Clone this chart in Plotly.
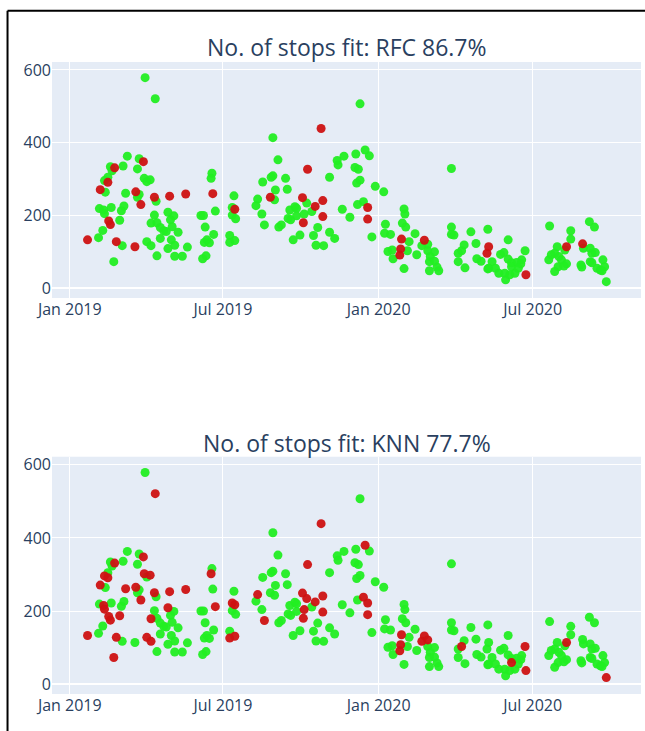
import plotly.graph_objects as go

# Observed number of stops per date, with whether each model's prediction was correct (1) or not (0)
dates = [
    "2019-03-31", "2019-04-12", "2019-03-10", "2019-03-24", "2019-03-29", "2019-02-18", "2019-02-23", "2019-03-05",
    "2019-03-22", "2019-02-20", "2019-02-15", "2019-02-11", "2019-02-15", "2019-03-30", "2019-04-06", "2019-04-02",
    "2019-02-06", "2019-02-12", "2019-03-08", "2019-03-20", "2019-03-24", "2019-03-22", "2019-03-26", "2019-04-11",
    "2019-04-13", "2019-04-29", "2019-05-18", "2019-02-05", "2019-02-10", "2019-02-11", "2019-02-19", "2019-03-06",
    "2019-03-03", "2019-02-16", "2019-02-18", "2019-03-01", "2019-02-09", "2019-02-04", "2019-01-22", "2019-02-25",
    "2019-03-04", "2019-03-19", "2019-02-22", "2019-04-11", "2019-04-27", "2019-05-04", "2019-04-30", "2019-04-07",
    "2019-04-14", "2019-04-18", "2019-04-22", "2019-04-25", "2019-05-02", "2019-05-09", "2019-04-18", "2019-05-01",
    "2019-05-05", "2019-04-27", "2019-04-02", "2019-04-07", "2019-04-14", "2019-05-05", "2019-05-14", "2019-05-20",
    "2019-06-05", "2019-06-08", "2019-06-18", "2019-06-17", "2019-06-19", "2019-06-22", "2019-06-10", "2019-06-20",
    "2019-06-12", "2019-06-09", "2019-06-15", "2019-06-11", "2019-06-07", "2019-07-14", "2019-07-12", "2019-07-15",
    "2019-07-12", "2019-07-16", "2019-07-09", "2019-07-09", "2019-07-15", "2019-08-29", "2019-09-04", "2019-08-29",
    "2019-08-27", "2019-08-17", "2019-09-13", "2019-09-15", "2019-09-01", "2019-08-31", "2019-08-26", "2019-08-11",
    "2019-08-09", "2019-08-16", "2019-08-19", "2019-09-05", "2019-09-08", "2019-10-09", "2019-10-03", "2019-10-18",
    "2019-10-27", "2019-10-27", "2019-10-04", "2019-10-25", "2019-09-18", "2019-09-24", "2019-09-26", "2019-09-16",
    "2019-09-19", "2019-09-26", "2019-10-05", "2019-10-08", "2019-10-14", "2019-09-22", "2019-09-30", "2019-10-16",
    "2019-10-21", "2019-10-19", "2019-10-28", "2019-11-04", "2019-11-10", "2019-11-04", "2019-11-13", "2019-11-14",
    "2019-11-21", "2019-11-19",
    "2019-12-05", "2019-12-16", "2019-12-21", "2019-12-04", "2019-12-08", "2019-12-10", "2019-12-06", "2019-12-10",
    "2019-11-28", "2019-12-07", "2019-12-14", "2019-12-19", "2019-12-19", "2019-12-24", "2019-12-28", "2020-01-07",
    "2020-03-27", "2020-01-31", "2020-02-01", "2020-01-09", "2020-01-08", "2020-01-15", "2020-01-29", "2020-02-02",
    "2020-01-28", "2020-02-06", "2020-02-13", "2020-01-27", "2020-01-26", "2020-01-12", "2020-01-17", "2020-01-18",
    "2020-02-04", "2020-01-31", "2020-02-24", "2020-02-21", "2020-02-28", "2020-03-07", "2020-02-15", "2020-02-28",
    "2020-03-02", "2020-03-01", "2020-03-07", "2020-03-01", "2020-03-12", "2020-03-10", "2020-03-27", "2020-03-27",
    "2020-03-30", "2020-04-19", "2020-04-25", "2020-04-11", "2020-04-08", "2020-04-04", "2020-04-04", "2020-04-12",
    "2020-04-26", "2020-05-01", "2020-05-09", "2020-05-10", "2020-05-08", "2020-05-09",
    "2020-06-02", "2020-06-22", "2020-05-24", "2020-05-28", "2020-05-14", "2020-05-10", "2020-06-02", "2020-06-06",
    "2020-06-12", "2020-06-18", "2020-06-17", "2020-05-18", "2020-05-22", "2020-05-29", "2020-05-30", "2020-06-06",
    "2020-06-04", "2020-06-10", "2020-06-14", "2020-06-23", "2020-07-21", "2020-07-30", "2020-08-10", "2020-08-08",
    "2020-08-15", "2020-08-15", "2020-07-20", "2020-07-23", "2020-07-27", "2020-08-01", "2020-08-04", "2020-07-31",
    "2020-07-27", "2020-08-10", "2020-08-07", "2020-09-06", "2020-09-12", "2020-08-29", "2020-08-30", "2020-09-07",
    "2020-09-09", "2020-09-13", "2020-08-27", "2020-08-28", "2020-09-07", "2020-09-09", "2020-09-15", "2020-09-19",
    "2020-09-22", "2020-09-24", "2020-09-21", "2020-09-26",
]

stops = [
    579, 521, 363, 356, 348, 334, 331, 336,
    328, 323, 305, 296, 291, 302, 298, 293,
    271, 264, 261, 265, 258, 250, 230, 250,
    239, 253, 259, 219, 215, 205, 222, 226,
    213, 185, 175, 187, 159, 139, 133, 128,
    117, 114, 73, 201, 209, 199, 188, 179,
    180, 167, 158, 156, 169, 154, 137, 133,
    118, 109, 128, 117, 89, 88, 88, 113,
    200, 200, 316, 302, 260, 212, 168, 148,
    133, 126, 125, 89, 81, 254, 222, 217,
    201, 191, 145, 126, 131, 414, 353, 309,
    305, 292, 302, 272, 270, 243, 250, 245,
    227, 204, 174, 168, 174, 327, 249, 225,
    241, 197, 180, 439, 215, 224, 220, 192,
    188, 199, 204, 234, 211, 133, 146, 145,
    167, 118, 117, 154, 137, 305, 351, 339,
    363, 217,
    369, 380, 364, 332, 327, 297, 289, 507,
    195, 230, 238, 222, 190, 141, 280, 265,
    329, 218, 204, 176, 151, 148, 179, 168,
    135, 128, 150, 108, 91, 101, 105, 81,
    103, 54, 132, 117, 121, 100, 92, 103,
    87, 73, 74, 48, 48, 58, 168, 148,
    146, 155, 123, 119, 103, 96, 73, 56,
    81, 74, 162, 114, 96, 53,
    133, 103, 93, 98, 73, 55, 80, 70,
    71, 78, 67, 55, 41, 41, 23, 59,
    37, 41, 55, 37, 171, 114, 114, 105,
    158, 135, 78, 92, 96, 87, 78, 59,
    46, 67, 61, 183, 168, 122, 110, 110,
    96, 98, 64, 58, 73, 70, 55, 50,
    78, 59, 48, 18,
]

rfc_ok = [
    1, 1, 1, 1, 0, 1, 0, 1,
    1, 1, 1, 1, 0, 1, 1, 1,
    0, 1, 1, 0, 1, 1, 0, 0,
    1, 0, 0, 1, 1, 1, 1, 1,
    1, 0, 0, 1, 1, 1, 0, 0,
    1, 0, 1, 1, 1, 1, 1, 1,
    1, 1, 1, 1, 1, 1, 1, 1,
    1, 1, 1, 1, 1, 1, 1, 1,
    1, 1, 1, 1, 0, 1, 1, 1,
    1, 1, 1, 1, 1, 1, 1, 0,
    1, 1, 1, 1, 1, 1, 1, 1,
    1, 1, 1, 1, 1, 1, 0, 1,
    1, 1, 1, 1, 1, 0, 0, 0,
    0, 0, 0, 0, 1, 1, 1, 1,
    1, 1, 1, 1, 1, 1, 1, 1,
    1, 1, 1, 1, 1, 1, 1, 1,
    1, 1,
    1, 1, 1, 1, 1, 1, 1, 1,
    1, 1, 1, 0, 0, 1, 1, 1,
    1, 1, 1, 1, 1, 1, 1, 1,
    0, 1, 1, 0, 0, 1, 1, 1,
    1, 1, 0, 1, 1, 1, 1, 1,
    1, 1, 1, 1, 1, 1, 1, 1,
    1, 1, 1, 1, 1, 1, 1, 1,
    1, 1, 1, 0, 0, 1,
    1, 1, 1, 1, 1, 1, 1, 1,
    1, 1, 1, 1, 1, 1, 1, 1,
    1, 1, 1, 0, 1, 1, 0, 1,
    1, 1, 1, 1, 1, 1, 1, 1,
    1, 1, 1, 1, 1, 0, 1, 1,
    1, 1, 1, 1, 1, 1, 1, 1,
    1, 1, 1, 1,
]

knn_ok = [
    1, 0, 1, 1, 0, 1, 0, 1,
    1, 1, 1, 0, 0, 0, 0, 1,
    0, 1, 0, 0, 1, 1, 0, 0,
    1, 0, 0, 1, 0, 0, 1, 1,
    1, 0, 0, 0, 1, 1, 0, 0,
    1, 1, 0, 1, 0, 1, 1, 0,
    1, 1, 1, 1, 1, 1, 1, 1,
    1, 1, 0, 0, 1, 1, 1, 1,
    1, 1, 1, 0, 1, 0, 1, 1,
    1, 1, 1, 1, 1, 1, 0, 0,
    1, 1, 1, 0, 0, 1, 1, 1,
    1, 1, 1, 1, 1, 1, 1, 0,
    1, 1, 0, 1, 1, 0, 0, 0,
    0, 0, 0, 0, 1, 1, 1, 1,
    1, 1, 0, 0, 1, 1, 1, 1,
    1, 1, 1, 1, 1, 1, 1, 1,
    1, 1,
    1, 0, 1, 1, 1, 1, 1, 1,
    1, 1, 0, 0, 0, 1, 1, 1,
    1, 1, 1, 1, 1, 1, 1, 1,
    0, 1, 1, 0, 0, 1, 1, 1,
    1, 1, 0, 0, 0, 1, 1, 1,
    1, 1, 1, 1, 1, 1, 1, 1,
    1, 1, 1, 1, 0, 1, 1, 1,
    1, 1, 1, 1, 1, 1,
    1, 0, 1, 1, 1, 1, 1, 1,
    1, 1, 1, 1, 1, 1, 1, 0,
    1, 1, 1, 0, 1, 1, 0, 1,
    1, 1, 1, 1, 1, 1, 1, 1,
    1, 1, 1, 1, 1, 1, 1, 1,
    1, 1, 1, 1, 1, 1, 1, 1,
    1, 1, 1, 0,
]

panel_titles = ["No. of stops fit: RFC 86.7%", "No. of stops fit: KNN 77.7%"]
y_ticks = [0, 200, 400, 600]

GREEN = "rgb(34,238,34)"
RED = "rgb(206,18,18)"
TEXT = "#2a3f5f"
FONT = "Open Sans"

fig = go.Figure()

panels = [(rfc_ok, "x", "y"), (knn_ok, "x2", "y2")]
for flags, xa, ya in panels:
    good_x = [d for d, f in zip(dates, flags) if f == 1]
    good_y = [v for v, f in zip(stops, flags) if f == 1]
    bad_x = [d for d, f in zip(dates, flags) if f == 0]
    bad_y = [v for v, f in zip(stops, flags) if f == 0]
    fig.add_trace(go.Scatter(x=good_x, y=good_y, mode="markers", xaxis=xa, yaxis=ya,
                             marker=dict(color=GREEN, size=9, opacity=0.95), showlegend=False))
    fig.add_trace(go.Scatter(x=bad_x, y=bad_y, mode="markers", xaxis=xa, yaxis=ya,
                             marker=dict(color=RED, size=9, opacity=0.95), showlegend=False))

x_common = dict(
    type="date", range=["2018-12-11", "2020-11-06"], tick0="2019-01-01", dtick="M6",
    tickformat="%b %Y", tickfont=dict(size=16, color=TEXT, family=FONT),
    gridcolor="white", showline=False, zeroline=False,
)
y_common = dict(
    range=[-27, 622], tickvals=y_ticks, tickfont=dict(size=16, color=TEXT, family=FONT),
    gridcolor="white", zeroline=True, zerolinecolor="white", zerolinewidth=2,
)

fig.update_layout(
    width=645, height=731,
    margin=dict(l=52, r=4, t=0, b=0, autoexpand=False),
    paper_bgcolor="white", plot_bgcolor="#E5ECF6",
    font=dict(family=FONT, color=TEXT),
    xaxis=dict(domain=[0, 1], anchor="y", **x_common),
    yaxis=dict(domain=[0.5923, 0.9152], anchor="x", **y_common),
    xaxis2=dict(domain=[0, 1], anchor="y2", **x_common),
    yaxis2=dict(domain=[0.0506, 0.3752], anchor="x2", **y_common),
    annotations=[
        dict(text=panel_titles[0], xref="paper", yref="paper", x=0.5, y=0.9357,
             xanchor="center", yanchor="middle", showarrow=False,
             font=dict(size=23, color=TEXT, family=FONT)),
        dict(text=panel_titles[1], xref="paper", yref="paper", x=0.5, y=0.394,
             xanchor="center", yanchor="middle", showarrow=False,
             font=dict(size=23, color=TEXT, family=FONT)),
    ],
    shapes=[
        # frame around the output cell: left and top edges
        dict(type="line", xref="paper", yref="paper", x0=-0.0755, x1=-0.0755, y0=-0.05, y1=0.9853,
             line=dict(color="black", width=2)),
        dict(type="line", xref="paper", yref="paper", x0=-0.0755, x1=1.02, y0=0.9853, y1=0.9853,
             line=dict(color="black", width=2)),
    ],
)

fig.write_html("out.html")
